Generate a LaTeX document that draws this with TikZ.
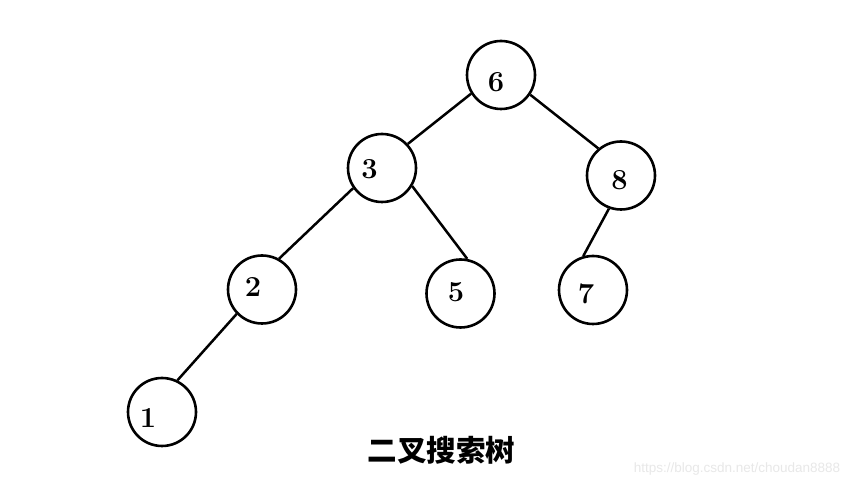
\documentclass[tikz,border=0pt]{standalone}
\usepackage{fontspec}
\newfontfamily\cjk{Noto Sans CJK SC}
\newfontfamily\wmfont{Liberation Sans}
\begin{document}
\begin{tikzpicture}[x=1pt,y=1pt,
  treenode/.style={circle,draw=black,line width=2.6pt,minimum size=68pt,inner sep=0pt},
  lab/.style={inner sep=0pt,font=\fontsize{29}{29}\selectfont\bfseries},
  edge/.style={draw=black,line width=2.5pt}]
\useasboundingbox (0,0) rectangle (868,487);
\fill[white] (0,0) rectangle (868,487);
% circles (y = 487 - ypx)
\node[treenode] (n6) at (501,412) {};
\node[treenode] (n3) at (382,319) {};
\node[treenode] (n8) at (621,311.5) {};
\node[treenode] (n2) at (262,197.5) {};
\node[treenode] (n5) at (460.5,193.5) {};
\node[treenode] (n7) at (593,197) {};
\node[treenode] (n1) at (162,75) {};
% labels
\node[lab] (t6) at (496,404.5) {6};
\node[lab] (t3) at (369.5,318) {3};
\node[lab] (t8) at (619.5,307) {8};
\node[lab] (t2) at (253,200) {2};
\node[lab] (t5) at (456,194.5) {5};
\node[lab] (t7) at (586,193.5) {7};
\node[lab] (t1) at (148,69.5) {1};
% edges
\draw[edge] (n6.212.8) -- (n3.43.9);
\draw[edge] (n6.-34.6) -- (n8.130.1);
\draw[edge] (n3.215.9) -- (n2.61);
\draw[edge] (n3.-31.5) -- (n5.79.9);
\draw[edge] (n8.-110) -- (n7.106.9);
\draw[edge] (n2.224.4) -- (n1.64.9);
% caption
\node[inner sep=0pt,font=\cjk\bfseries\fontsize{29.5}{29.5}\selectfont] (cap) at (441.5,37) {二叉搜索树};
% watermark
\node[inner sep=0pt,text=black!9,font=\wmfont\fontsize{13.5}{13.5}\selectfont] (wm) at (737,18) {https://blog.csdn.net/choudan8888};
\end{tikzpicture}
\end{document}
